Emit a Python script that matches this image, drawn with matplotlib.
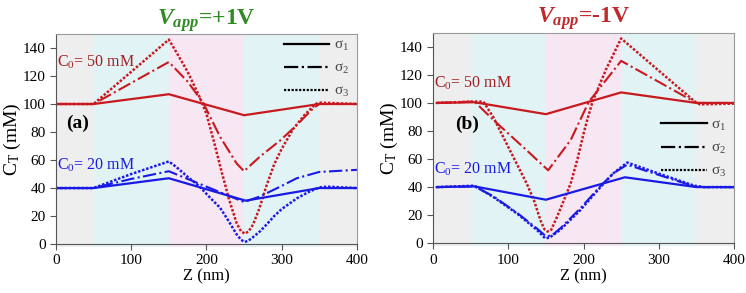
import matplotlib.pyplot as plt

plt.rcParams['font.family'] = ['Liberation Serif', 'DejaVu Serif']
plt.rcParams['mathtext.fontset'] = 'custom'
plt.rcParams['mathtext.rm'] = 'Liberation Serif'
plt.rcParams['mathtext.it'] = 'Liberation Serif:italic:bold'
plt.rcParams['mathtext.bf'] = 'Liberation Serif:bold'

RED = '#c8191f'
DRED = '#a41e22'
BLUE = '#1a1ae6'

# ---- panel (a): Vapp = +1V ----
a_red_s1_z = [0, 50, 150, 250, 350, 400]
a_red_s1_c = [100, 100, 107, 92, 100, 100]
a_red_s2_z = [0, 50, 100, 150, 175, 196, 218, 240, 250, 260, 271, 298, 320, 342, 350, 400]
a_red_s2_c = [100, 100, 115, 130, 116, 100.5, 76.7, 57.6, 52, 57, 62.4, 74, 85, 97, 100, 100]
a_red_s3_z = [0, 50, 100, 150, 160, 175, 190, 200, 210, 220, 230, 240, 246, 251, 256, 262,
              270, 280, 290, 300, 315, 330, 345, 350, 400]
a_red_s3_c = [100, 100, 123, 146, 137, 123, 106, 93, 73, 52, 32, 15, 9, 7.5, 9, 14,
              25, 42, 57, 68, 82, 92, 100, 101, 100]

a_blu_s1_z = [0, 50, 150, 252, 350, 400]
a_blu_s1_c = [40, 40, 47, 31, 40, 40]
a_blu_s2_z = [0, 50, 100, 150, 200, 250, 271, 298, 320, 350, 400]
a_blu_s2_c = [40, 40, 46.5, 52, 41, 30, 34, 41, 47, 51.5, 53]
a_blu_s3_z = [0, 50, 100, 150, 160, 175, 190, 205, 218, 230, 240, 246, 251, 256, 262, 271,
              280, 290, 300, 320, 335, 350, 360, 400]
a_blu_s3_c = [40, 40, 50, 59, 55, 48, 41.5, 33, 26, 16, 7, 3, 1.5, 2.5, 5, 9,
              14, 20, 25, 32.6, 37, 40.5, 41, 40]

# ---- panel (b): Vapp = -1V ----
b_red_s1_z = [5, 55, 150, 250, 350, 400]
b_red_s1_c = [100, 100.5, 92, 107.5, 100, 100]
b_red_s2_z = [5, 55, 80, 125, 153, 183, 207, 250, 300, 350, 400]
b_red_s2_c = [100, 101, 88, 66, 52, 73.6, 100.8, 130, 115, 100, 100]
b_red_s3_z = [5, 55, 67, 80, 95, 110, 125, 134, 143, 148, 152, 157, 165, 175, 183, 192,
              200, 206, 212, 230, 250, 300, 350, 355, 400]
b_red_s3_c = [100, 101, 100.9, 90, 74, 58, 42, 30.8, 16, 10, 8.3, 9.5, 19, 32, 42.7, 60,
              78, 90, 100.9, 124, 146, 123, 100, 99, 99.5]

b_blu_s1_z = [5, 55, 150, 255, 350, 400]
b_blu_s1_c = [40, 40.5, 31, 47, 40, 40]
b_blu_s2_z = [5, 55, 80, 112, 138, 150, 158, 170, 196, 223, 240, 258, 298, 347, 360, 400]
b_blu_s2_c = [40, 40.5, 33.5, 21.5, 10.5, 5, 5.5, 11, 25, 41, 50, 56, 49, 40.5, 40, 40]
b_blu_s3_z = [5, 55, 80, 112, 138, 149, 155, 169, 196, 223, 240, 258, 298, 347, 360, 400]
b_blu_s3_c = [40, 41, 33, 21, 9.5, 3.5, 4, 9.5, 23.7, 40.3, 50, 57.5, 50, 41, 40, 40]

bands = [(0, 50, '#eeeeee'), (50, 150, '#e2f3f6'), (150, 250, '#f6e7f3'),
         (250, 350, '#e2f3f6'), (350, 400, '#eeeeee')]

DOT = (0, (1, 0.7))

fig = plt.figure(figsize=(7.46, 2.93), dpi=100)
axa = fig.add_axes([0.075, 0.167, 0.4035, 0.717])
axb = fig.add_axes([0.5804, 0.170, 0.4036, 0.718])


def style(ax):
    for z0, z1, col in bands:
        ax.axvspan(z0, z1, ymin=-0.012, color=col, lw=0, zorder=0, clip_on=False)
    ax.set_xlim(0, 400)
    ax.set_ylim(0, 150)
    ax.set_xticks([0, 100, 200, 300, 400])
    ax.set_yticks(range(0, 141, 20))
    ax.tick_params(labelsize=11, length=4, color='#555555')
    for s in ax.spines.values():
        s.set_color('#9a9a9a')
    ax.spines['left'].set_color('#555555')
    ax.spines['bottom'].set_color('#555555')
    ax.set_xlabel('Z (nm)', fontsize=12, labelpad=1)
    ax.set_ylabel(r'C$_\mathrm{T}$ (mM)', fontsize=14, labelpad=0)


style(axa)
style(axb)

lw_s, lw_d, lw_o = 1.6, 1.5, 1.8
for ax, red, blu in [(axa, (a_red_s1_z, a_red_s1_c, a_red_s2_z, a_red_s2_c, a_red_s3_z, a_red_s3_c),
                      (a_blu_s1_z, a_blu_s1_c, a_blu_s2_z, a_blu_s2_c, a_blu_s3_z, a_blu_s3_c)),
                     (axb, (b_red_s1_z, b_red_s1_c, b_red_s2_z, b_red_s2_c, b_red_s3_z, b_red_s3_c),
                      (b_blu_s1_z, b_blu_s1_c, b_blu_s2_z, b_blu_s2_c, b_blu_s3_z, b_blu_s3_c))]:
    for d, col in [(red, RED), (blu, BLUE)]:
        ax.plot(d[0], d[1], '-', color=col, lw=lw_s)
        ax.plot(d[2], d[3], '-.', color=col, lw=lw_d)
        ax.plot(d[4], d[5], linestyle=DOT, color=col, lw=lw_o)

# legends (black sample lines)
for ax, anchor in [(axa, (1.02, 1.045)), (axb, (1.02, 0.66))]:
    h1, = ax.plot([], [], '-', color='black', lw=1.6)
    h2, = ax.plot([], [], '-.', color='black', lw=1.6)
    h3, = ax.plot([], [], linestyle=DOT, color='black', lw=1.6)
    leg = ax.legend([h1, h2, h3], ['σ$_1$', 'σ$_2$', 'σ$_3$'], loc='upper right',
                    bbox_to_anchor=anchor, frameon=False, fontsize=11,
                    handlelength=3.0, labelspacing=0.55, handletextpad=0.3)
    for t in leg.get_texts():
        t.set_color('#444444')

axa.text(2, 130, 'C$_0$= 50 mM', color=DRED, fontsize=11.5, va='center')
axa.text(2, 56, 'C$_0$= 20 mM', color=BLUE, fontsize=11.5, va='center')
axa.text(14, 86, '(a)', fontsize=14, fontweight='bold', va='center')

axb.text(2, 114, 'C$_0$= 50 mM', color=DRED, fontsize=11.5, va='center')
axb.text(2, 53, 'C$_0$= 20 mM', color=BLUE, fontsize=11.5, va='center')
axb.text(30, 85, '(b)', fontsize=14, fontweight='bold', va='center')

axa.set_title('$V_{app}$=+1V', color='#2e8b22', fontsize=17, fontweight='bold', pad=7)
axb.set_title('$V_{app}$=-1V', color='#c0282a', fontsize=17, fontweight='bold', pad=7)

fig.savefig('out.png', dpi=100)
